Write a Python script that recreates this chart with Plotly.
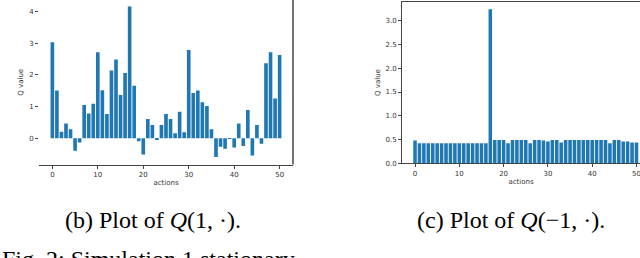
import plotly.graph_objects as go

actions = list(range(51))
q_pos = [3.03, 1.51, 0.21, 0.47, 0.29, -0.39, -0.13, 1.05, 0.78, 1.09,
         2.72, 1.52, 0.77, 2.14, 2.49, 1.37, 2.06, 4.16, 1.66, -0.09,
         -0.51, 0.61, 0.42, -0.04, 0.42, 0.77, 0.61, 0.16, 0.84, 0.19,
         2.79, 1.43, 1.51, 1.14, 1.02, 0.29, -0.59, -0.27, -0.33, -0.02,
         -0.29, 0.47, -0.24, 0.89, -0.54, 0.42, -0.17, 2.37, 2.72, 1.26,
         2.63]
q_neg = [0.48, 0.42, 0.42, 0.42, 0.42, 0.42, 0.42, 0.42, 0.42, 0.42,
         0.42, 0.42, 0.42, 0.42, 0.42, 0.42, 0.42, 3.24, 0.49, 0.49,
         0.49, 0.42, 0.49, 0.49, 0.49, 0.49, 0.42, 0.49, 0.49, 0.48,
         0.46, 0.49, 0.49, 0.44, 0.49, 0.49, 0.49, 0.49, 0.49, 0.49,
         0.49, 0.49, 0.49, 0.49, 0.42, 0.49, 0.49, 0.46, 0.46, 0.44,
         0.44]
x_ticks = [0, 10, 20, 30, 40, 50]
y_ticks_left = [0, 1, 2, 3, 4]
y_ticks_right = [0.0, 0.5, 1.0, 1.5, 2.0, 2.5, 3.0]
caption_b = "(b) Plot of <i>Q</i>(1, ·)."
caption_c = "(c) Plot of <i>Q</i>(−1, ·)."
fig_caption = "Fig. 2: Simulation 1 stationary"

W, H = 640, 258
BAR = "#1f77b4"
SPINE = "#444444"
TICKFONT = dict(family="DejaVu Sans", size=7, color="#333333")

fig = go.Figure()
fig.add_trace(go.Bar(x=actions, y=q_pos, width=0.8, marker=dict(color=BAR, line=dict(width=0)),
                     xaxis="x", yaxis="y", showlegend=False))
fig.add_trace(go.Bar(x=actions, y=q_neg, width=0.8, marker=dict(color=BAR, line=dict(width=0)),
                     xaxis="x2", yaxis="y2", showlegend=False))

def px_x(p):
    return p / W

def px_y(p):
    return (H - p) / H

common_x = dict(tickvals=x_ticks, ticks="outside", ticklen=3, tickwidth=1, tickcolor=SPINE,
                tickfont=TICKFONT, showgrid=False, zeroline=False, showline=True,
                linecolor=SPINE, linewidth=1, automargin=False, ticklabeloverflow="allow",
                title=dict(text="actions", font=dict(family="DejaVu Sans", size=7, color="#333333"),
                           standoff=2))
common_y = dict(ticks="outside", ticklen=3, tickwidth=1, tickcolor=SPINE, tickfont=TICKFONT,
                showgrid=False, zeroline=False, automargin=False,
                title=dict(text="Q value", font=dict(family="DejaVu Sans", size=7, color="#333333"),
                           standoff=4))

fig.update_layout(
    width=W, height=H, margin=dict(l=0, r=0, t=0, b=0),
    paper_bgcolor="white", plot_bgcolor="white",
    xaxis=dict(domain=[px_x(39), px_x(293)], range=[-2.94, 52.94], anchor="y", **common_x),
    yaxis=dict(domain=[px_y(164.6), 1.0], range=[-0.83, 4.367], anchor="x",
               tickvals=y_ticks_left, showline=False, **common_y),
    xaxis2=dict(domain=[px_x(402), 1.0], range=[-2.94, 50.79], anchor="y2", mirror=True, **common_x),
    yaxis2=dict(domain=[px_y(163.3), px_y(1.7)], range=[0, 3.40], anchor="x2",
                tickvals=y_ticks_right, tickformat=".1f", showline=True, linecolor=SPINE,
                linewidth=1, **common_y),
    bargap=0.2,
)

# right spine of left plot
fig.add_shape(type="line", xref="x domain", yref="y domain", x0=1, x1=1, y0=0, y1=1,
              line=dict(color=SPINE, width=1.5))

serif = dict(family="Liberation Serif", size=24, color="black")
fig.add_annotation(text=caption_b, xref="paper", yref="paper",
                   x=px_x(153), y=px_y(220), xanchor="center", yanchor="middle",
                   showarrow=False, font=serif)
fig.add_annotation(text=caption_c, xref="paper", yref="paper",
                   x=px_x(511), y=px_y(220), xanchor="center", yanchor="middle",
                   showarrow=False, font=serif)
fig.add_annotation(text=fig_caption, xref="paper", yref="paper",
                   x=0, y=px_y(259), xanchor="left", yanchor="middle",
                   showarrow=False, font=serif)

fig.write_html("out.html", config={"displayModeBar": False},
               post_script="document.body.style.margin='0px';")
